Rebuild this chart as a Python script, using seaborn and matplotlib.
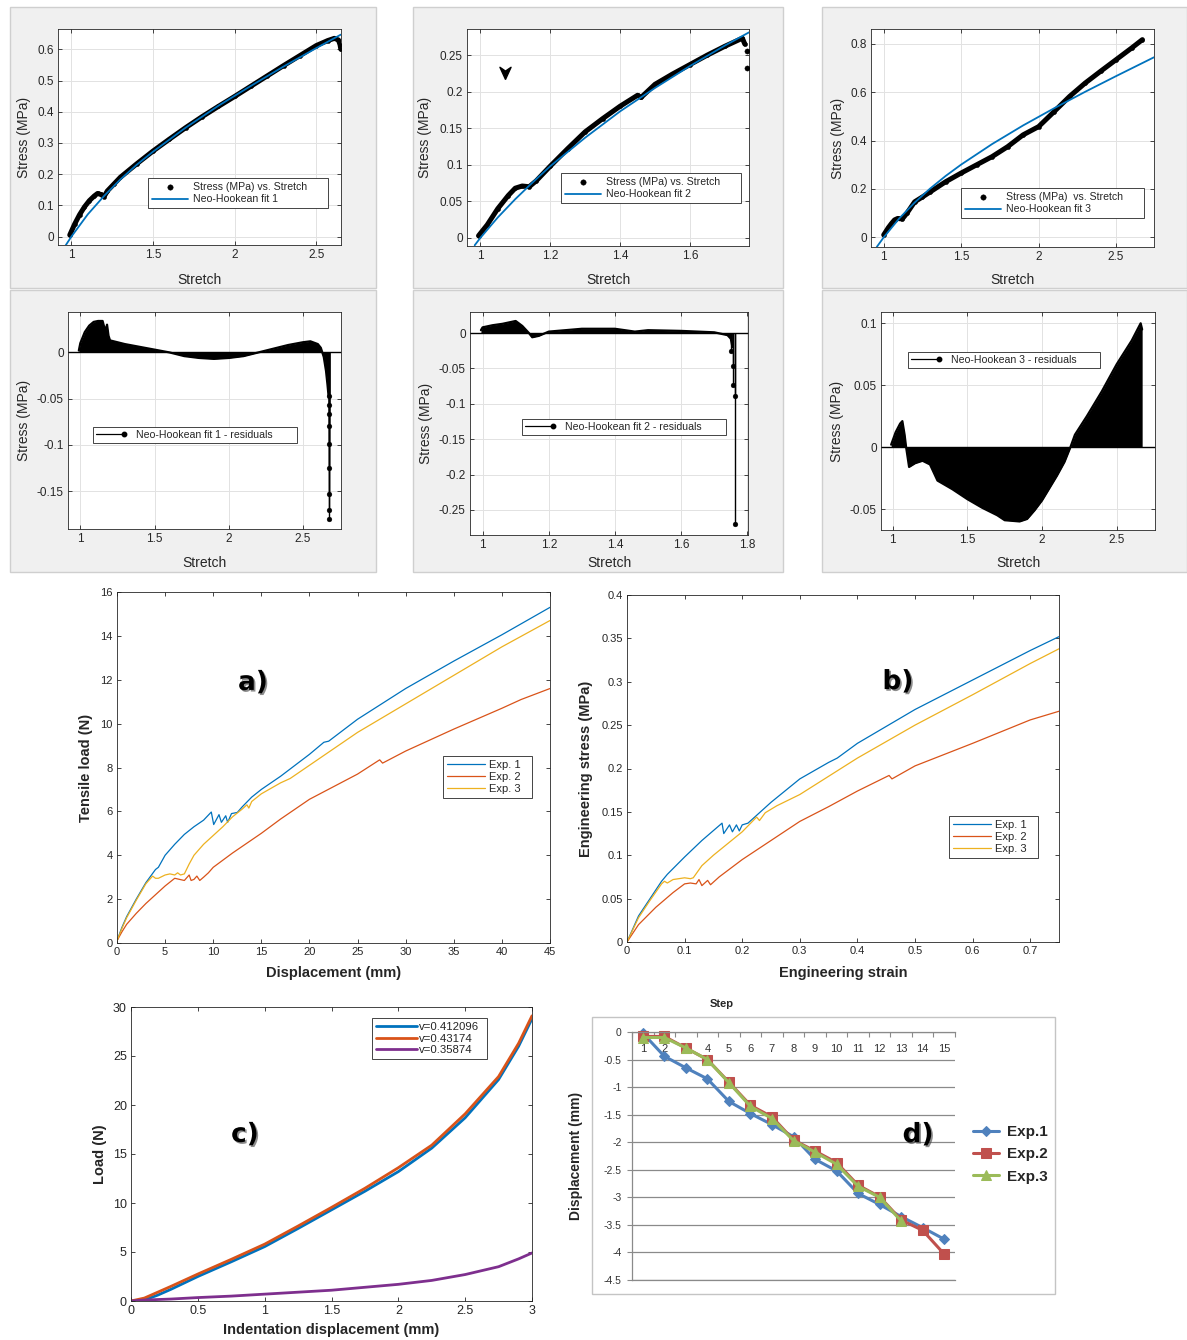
import numpy as np
import matplotlib
matplotlib.use("Agg")
import matplotlib.pyplot as plt
import seaborn as sns
from matplotlib.ticker import FuncFormatter
from matplotlib.patches import Rectangle
from matplotlib.lines import Line2D
from matplotlib.legend_handler import HandlerLine2D
import matplotlib.patheffects as pe

# ---------------- data ----------------
# top row: stress vs stretch + Neo-Hookean fits
p1_stretch = [0.99, 1.02, 1.05, 1.08, 1.11, 1.14, 1.16, 1.18, 1.20, 1.22, 1.26, 1.30, 1.40, 1.50, 1.60,
              1.70, 1.80, 1.90, 2.00, 2.10, 2.20, 2.30, 2.40, 2.50, 2.57, 2.61, 2.635, 2.645, 2.65]
p1_stress = [0.005, 0.040, 0.070, 0.095, 0.115, 0.130, 0.138, 0.135, 0.128, 0.146, 0.168, 0.190, 0.233, 0.274, 0.312,
             0.349, 0.384, 0.417, 0.449, 0.482, 0.515, 0.548, 0.580, 0.612, 0.628, 0.635, 0.630, 0.615, 0.600]
p1_fit_x = [0.96, 1.0, 1.1, 1.2, 1.3, 1.4, 1.5, 1.7, 1.9, 2.1, 2.3, 2.5, 2.65]
p1_fit_y = [-0.032, 0.0, 0.071, 0.130, 0.183, 0.230, 0.272, 0.349, 0.419, 0.483, 0.545, 0.604, 0.647]

p2_stretch = [0.995, 1.02, 1.05, 1.08, 1.10, 1.12, 1.14, 1.16, 1.20, 1.25, 1.30, 1.35, 1.40, 1.45, 1.46,
              1.50, 1.55, 1.60, 1.65, 1.70, 1.75, 1.757]
p2_stress = [0.003, 0.018, 0.040, 0.058, 0.068, 0.071, 0.070, 0.078, 0.098, 0.122, 0.145, 0.163, 0.180, 0.195, 0.192,
             0.210, 0.224, 0.237, 0.250, 0.262, 0.273, 0.265]
p2_out_x = [1.762, 1.762]
p2_out_y = [0.255, 0.232]
p2_fit_x = [0.984, 1.0, 1.05, 1.1, 1.15, 1.2, 1.3, 1.4, 1.5, 1.6, 1.7, 1.769]
p2_fit_y = [-0.010, 0.0, 0.028, 0.053, 0.076, 0.098, 0.137, 0.173, 0.205, 0.235, 0.263, 0.281]

p3_stretch = [1.0, 1.03, 1.05, 1.07, 1.09, 1.12, 1.15, 1.20, 1.25, 1.30, 1.40, 1.50, 1.60, 1.70, 1.80,
              1.90, 2.00, 2.10, 2.20, 2.30, 2.40, 2.50, 2.60, 2.67]
p3_stress = [0.010, 0.040, 0.057, 0.072, 0.078, 0.076, 0.100, 0.147, 0.167, 0.188, 0.230, 0.266, 0.300, 0.334, 0.375,
             0.424, 0.458, 0.520, 0.583, 0.638, 0.687, 0.735, 0.783, 0.818]
p3_fit_x = [0.955, 1.0, 1.1, 1.2, 1.3, 1.4, 1.5, 1.7, 1.9, 2.1, 2.3, 2.5, 2.745]
p3_fit_y = [-0.040, 0.0, 0.078, 0.144, 0.202, 0.254, 0.301, 0.386, 0.463, 0.534, 0.602, 0.667, 0.745]

# middle row: residuals
r1_x = [0.99, 1.0, 1.03, 1.06, 1.09, 1.12, 1.15, 1.16, 1.17, 1.18, 1.19, 1.20, 1.25, 1.30, 1.40, 1.50, 1.60,
        1.70, 1.80, 1.90, 2.00, 2.10, 2.20, 2.30, 2.40, 2.50, 2.55, 2.60, 2.62, 2.64, 2.655, 2.665, 2.672]
r1_y = [0.002, 0.010, 0.022, 0.029, 0.033, 0.034, 0.034, 0.028, 0.024, 0.030, 0.018, 0.013, 0.011, 0.009, 0.006,
        0.003, 0.000, -0.004, -0.006, -0.007, -0.006, -0.004, 0.000, 0.004, 0.008, 0.011, 0.012, 0.009, 0.005,
        -0.005, -0.020, -0.035, -0.047]
r1_tail_x = [2.673, 2.673, 2.673, 2.673, 2.673, 2.673, 2.673, 2.673, 2.673]
r1_tail_y = [-0.047, -0.057, -0.067, -0.080, -0.099, -0.125, -0.153, -0.170, -0.180]

r2_x = [0.995, 1.0, 1.03, 1.06, 1.09, 1.10, 1.12, 1.14, 1.15, 1.17, 1.20, 1.25, 1.30, 1.40, 1.46, 1.50, 1.60,
        1.70, 1.74, 1.75, 1.755]
r2_y = [0.004, 0.008, 0.011, 0.013, 0.016, 0.017, 0.010, 0.000, -0.006, -0.004, 0.002, 0.004, 0.006, 0.006, 0.002,
        0.004, 0.003, 0.001, -0.003, -0.008, -0.020]
r2_tail_x = [1.752, 1.757, 1.757, 1.762, 1.762]
r2_tail_y = [-0.025, -0.047, -0.073, -0.089, -0.270]

r3_x = [0.99, 1.02, 1.05, 1.065, 1.08, 1.09, 1.11, 1.15, 1.20, 1.25, 1.30, 1.40, 1.50, 1.60, 1.70, 1.75, 1.85,
        1.90, 1.95, 2.00, 2.10, 2.15, 2.19, 2.22, 2.30, 2.40, 2.50, 2.60, 2.66, 2.67]
r3_y = [0.002, 0.012, 0.019, 0.021, 0.010, 0.000, -0.016, -0.013, -0.011, -0.014, -0.027, -0.034, -0.042, -0.049,
        -0.055, -0.059, -0.060, -0.058, -0.051, -0.043, -0.023, -0.012, 0.000, 0.010, 0.025, 0.045, 0.067, 0.086,
        0.100, 0.095]
r3_tail_x = []
r3_tail_y = []

# a) tensile load vs displacement
a_exp1_x = [0, 0.5, 1, 2, 3, 3.5, 4, 4.3, 5, 6, 7, 8, 9, 9.8, 10.05, 10.6, 10.85, 11.3, 11.5, 11.9, 12.5, 13, 14,
            15, 17, 20, 21.5, 22, 25, 30, 35, 40, 45]
a_exp1_y = [0.1, 0.7, 1.2, 2.0, 2.75, 3.05, 3.35, 3.45, 4.0, 4.5, 4.95, 5.3, 5.6, 5.97, 5.4, 5.85, 5.5, 5.8, 5.5,
            5.9, 5.95, 6.2, 6.65, 7.0, 7.6, 8.6, 9.15, 9.2, 10.2, 11.6, 12.85, 14.05, 15.3]
a_exp2_x = [0, 0.5, 1, 2, 3, 4, 5, 6, 6.5, 7, 7.3, 7.5, 7.7, 8, 8.3, 8.6, 9, 9.5, 10, 12, 15, 17, 20, 25, 27.3,
            27.6, 30, 35, 40, 42, 45]
a_exp2_y = [0.1, 0.5, 0.85, 1.35, 1.8, 2.2, 2.6, 2.95, 2.9, 2.85, 3.0, 3.1, 2.85, 2.9, 3.05, 2.85, 3.0, 3.2, 3.45,
            4.1, 5.0, 5.65, 6.55, 7.7, 8.35, 8.2, 8.75, 9.75, 10.7, 11.1, 11.6]
a_exp3_x = [0, 0.5, 1, 2, 3, 3.7, 4.0, 4.3, 5, 5.5, 6, 6.3, 6.6, 7, 7.5, 8, 9, 10, 11, 12, 13, 13.5, 13.7, 14, 15,
            17, 18, 20, 25, 30, 35, 40, 45]
a_exp3_y = [0.1, 0.65, 1.15, 1.95, 2.7, 3.05, 2.95, 2.95, 3.1, 3.15, 3.1, 3.2, 3.1, 3.15, 3.6, 4.0, 4.5, 4.9, 5.3,
            5.75, 6.1, 6.3, 6.15, 6.45, 6.8, 7.3, 7.5, 8.1, 9.6, 10.9, 12.2, 13.5, 14.7]

# b) engineering stress vs strain
b_exp1_x = [0, 0.02, 0.04, 0.06, 0.07, 0.10, 0.13, 0.165, 0.168, 0.178, 0.183, 0.19, 0.195, 0.20, 0.21, 0.25,
            0.30, 0.35, 0.365, 0.40, 0.50, 0.60, 0.70, 0.75]
b_exp1_y = [0.0, 0.03, 0.05, 0.07, 0.078, 0.098, 0.117, 0.137, 0.125, 0.135, 0.127, 0.135, 0.128, 0.135, 0.137,
            0.161, 0.188, 0.207, 0.212, 0.229, 0.268, 0.302, 0.336, 0.352]
b_exp2_x = [0, 0.02, 0.05, 0.08, 0.10, 0.11, 0.12, 0.125, 0.13, 0.14, 0.145, 0.15, 0.16, 0.20, 0.25, 0.30, 0.35,
            0.40, 0.455, 0.46, 0.50, 0.60, 0.70, 0.75]
b_exp2_y = [0.0, 0.02, 0.04, 0.057, 0.067, 0.068, 0.067, 0.072, 0.065, 0.071, 0.066, 0.069, 0.075, 0.095, 0.117,
            0.139, 0.156, 0.174, 0.192, 0.188, 0.203, 0.229, 0.256, 0.266]
b_exp3_x = [0, 0.02, 0.04, 0.06, 0.065, 0.07, 0.08, 0.09, 0.10, 0.11, 0.115, 0.13, 0.15, 0.20, 0.225, 0.23, 0.24,
            0.26, 0.30, 0.40, 0.50, 0.60, 0.70, 0.75]
b_exp3_y = [0.0, 0.028, 0.048, 0.067, 0.070, 0.068, 0.072, 0.073, 0.074, 0.073, 0.074, 0.088, 0.100, 0.127, 0.144,
            0.140, 0.149, 0.157, 0.170, 0.212, 0.250, 0.285, 0.321, 0.338]

# c) indentation load
c_disp = [0, 0.1, 0.2, 0.3, 0.5, 0.75, 1.0, 1.25, 1.5, 1.75, 2.0, 2.25, 2.5, 2.75, 2.9, 3.0]
c_v1 = [0, 0.1, 0.6, 1.2, 2.5, 4.0, 5.55, 7.4, 9.3, 11.2, 13.2, 15.6, 18.7, 22.6, 26.0, 28.8]
c_v2 = [0, 0.3, 0.9, 1.5, 2.75, 4.25, 5.8, 7.65, 9.55, 11.5, 13.6, 15.9, 19.1, 22.9, 26.3, 29.1]
c_v3 = [0, 0.1, 0.15, 0.2, 0.35, 0.5, 0.7, 0.9, 1.1, 1.4, 1.7, 2.1, 2.7, 3.5, 4.3, 4.9]
c_labels = ["v=0.412096", "v=0.43174", "v=0.35874"]

# d) displacement per step
d_step = [1, 2, 3, 4, 5, 6, 7, 8, 9, 10, 11, 12, 13, 14, 15]
d_exp1 = [-0.02, -0.44, -0.65, -0.85, -1.26, -1.48, -1.68, -1.90, -2.31, -2.52, -2.93, -3.13, -3.35, -3.55, -3.76]
d_exp2 = [-0.08, -0.08, -0.29, -0.50, -0.91, -1.33, -1.54, -1.96, -2.16, -2.37, -2.78, -2.99, -3.41, -3.60, -4.03]
d_step3 = [1, 2, 3, 4, 5, 6, 7, 8, 9, 10, 11, 12, 13]
d_exp3 = [-0.10, -0.10, -0.29, -0.50, -0.92, -1.35, -1.57, -1.97, -2.18, -2.40, -2.80, -3.00, -3.43]

# ---------------- setup ----------------
sns.set_theme(style="ticks")
plt.rcParams['font.family'] = ['Liberation Sans', 'DejaVu Sans']
plt.rcParams['axes.unicode_minus'] = False

W, H = 1187, 1340
fig = plt.figure(figsize=(W / 100, H / 100), dpi=100)
fig.patch.set_facecolor('white')

ML_BLUE, ML_ORANGE, ML_YELLOW, ML_PURPLE = '#0072BD', '#D95319', '#EDB120', '#7E2F8E'
DARK = '#262626'


def add_ax(box):
    l, t, r, b = box
    return fig.add_axes([l / W, 1 - b / H, (r - l) / W, (b - t) / H])


def gfmt(v, pos):
    if abs(v) < 1e-12:
        return '0'
    return f'{v:g}'


def style_box(ax, xlim, ylim, xt, yt, labelsize, grid):
    ax.set_xlim(xlim)
    ax.set_ylim(ylim)
    ax.set_xticks(xt)
    ax.set_yticks(yt)
    ax.xaxis.set_major_formatter(FuncFormatter(gfmt))
    ax.yaxis.set_major_formatter(FuncFormatter(gfmt))
    ax.tick_params(direction='in', top=True, right=True, length=3, width=0.6, color=DARK,
                   labelcolor=DARK, labelsize=labelsize, pad=3)
    for s in ax.spines.values():
        s.set_visible(True)
        s.set_color(DARK)
        s.set_linewidth(0.6)
    ax.set_facecolor('white')
    if grid:
        ax.grid(True, color='#e2e2e2', lw=0.7)
    else:
        ax.grid(False)
    ax.set_axisbelow(True)


def set_labels(ax, box, xlabel, ylabel, xlab_top, ylab_right, size, weight='normal'):
    l, t, r, b = box
    ax.set_xlabel(xlabel, fontsize=size, fontweight=weight, color=DARK)
    ax.set_ylabel(ylabel, fontsize=size, fontweight=weight, color=DARK)
    ax.xaxis.set_label_coords(0.5, -(xlab_top - b) / (b - t))
    ax.yaxis.set_label_coords(-(l - ylab_right) / (r - l), 0.5)


def place_legend(ax, handles, labels, box, fontsize, **kw):
    l, t, r, b = box
    leg = ax.legend(handles, labels, loc='upper left',
                    bbox_to_anchor=(l / W, 1 - b / H, (r - l) / W, (b - t) / H),
                    bbox_transform=fig.transFigure, mode='expand', borderaxespad=0,
                    fancybox=False, framealpha=1, edgecolor=DARK, fontsize=fontsize, **kw)
    leg.get_frame().set_linewidth(0.6)
    for txt in leg.get_texts():
        txt.set_color(DARK)
    return leg


class EndMarker(HandlerLine2D):
    def create_artists(self, legend, orig_handle, xdescent, ydescent, width, height, fontsize, trans):
        y = (height - ydescent) / 2
        line = Line2D([-xdescent, -xdescent + width], [y, y])
        self.update_prop(line, orig_handle, legend)
        line.set_markevery([1])
        line.set_transform(trans)
        return [line]


def gray_box(l, t, r, b):
    fig.patches.append(Rectangle((l / W, 1 - b / H), (r - l) / W, (b - t) / H, transform=fig.transFigure,
                                 facecolor='#f0f0f0', edgecolor='#cfcfcf', lw=1.0, zorder=-5))


# gray MATLAB figure backgrounds
for (l, r) in [(10, 376), (413, 783), (822, 1187)]:
    gray_box(l, 7, r, 288)
    gray_box(l, 290, r, 572)


# ---------------- top row ----------------
def stress_panel(box, sx, sy, fx, fy, datalabel, fitlabel, xlim, ylim, xt, yt, legbox, ylab_right, out=None):
    ax = add_ax(box)
    sns.lineplot(x=sx, y=sy, ax=ax, color='black', lw=3.6, sort=False, estimator=None, legend=False)
    sns.scatterplot(x=sx, y=sy, ax=ax, color='black', s=9, edgecolor='black', linewidth=0.3,
                    label=datalabel, zorder=3)
    if out is not None:
        sns.scatterplot(x=out[0], y=out[1], ax=ax, color='black', s=14, edgecolor='black', legend=False, zorder=3)
    sns.lineplot(x=fx, y=fy, ax=ax, color=ML_BLUE, lw=1.3, sort=False, estimator=None, label=fitlabel, zorder=4)
    style_box(ax, xlim, ylim, xt, yt, 8.5, True)
    set_labels(ax, box, 'Stretch', 'Stress (MPa)', 273, ylab_right, 10)
    h, lab = ax.get_legend_handles_labels()
    place_legend(ax, h, lab, legbox, 7.6, handlelength=3.4, handletextpad=0.5, borderpad=0.35,
                 labelspacing=0.25, markerscale=1.3, scatterpoints=1)
    return ax


box1 = (58, 29, 341, 245)
stress_panel(box1, p1_stretch, p1_stress, p1_fit_x, p1_fit_y, 'Stress (MPa) vs. Stretch', 'Neo-Hookean fit 1',
             (0.918, 2.651), (-0.027, 0.665), [1, 1.5, 2, 2.5], [0, 0.1, 0.2, 0.3, 0.4, 0.5, 0.6],
             (148, 178, 328, 216), 31)

box2 = (467, 29, 749, 246)
ax2 = stress_panel(box2, p2_stretch, p2_stress, p2_fit_x, p2_fit_y, 'Stress (MPa) vs. Stretch', 'Neo-Hookean fit 2',
                   (0.962, 1.769), (-0.011, 0.2856), [1, 1.2, 1.4, 1.6], [0, 0.05, 0.1, 0.15, 0.2, 0.25],
                   (561, 173, 741, 213), 432, out=(p2_out_x, p2_out_y))
arrow_verts = [(0, -1), (-0.8, 0.75), (0, 0.2), (0.8, 0.75), (0, -1)]
ax2.plot([1.071], [0.227], marker=arrow_verts, ms=10, color='black', ls='none')

box3 = (871, 29, 1154, 247)
stress_panel(box3, p3_stretch, p3_stress, p3_fit_x, p3_fit_y, 'Stress (MPa)  vs. Stretch', 'Neo-Hookean fit 3',
             (0.918, 2.745), (-0.040, 0.862), [1, 1.5, 2, 2.5], [0, 0.2, 0.4, 0.6, 0.8],
             (961, 188, 1144, 225), 845)


# ---------------- residual row ----------------
def resid_panel(box, rx, ry, tx, ty, label, xlim, ylim, xt, yt, legbox, ylab_right):
    ax = add_ax(box)
    ax.fill_between(rx, ry, 0, color='black', lw=0)
    sns.lineplot(x=rx, y=ry, ax=ax, color='black', lw=1.6, sort=False, estimator=None, legend=False)
    if len(tx):
        ax.vlines(tx, ty, 0, color='black', lw=1.0)
        sns.scatterplot(x=tx, y=ty, ax=ax, color='black', s=12, edgecolor='black', legend=False, zorder=4)
    ax.axhline(0, color='black', lw=1.0)
    style_box(ax, xlim, ylim, xt, yt, 8.5, True)
    set_labels(ax, box, 'Stretch', 'Stress (MPa)', 556, ylab_right, 10)
    proxy = Line2D([], [], color='black', lw=0.9, marker='o', markersize=3.2)
    place_legend(ax, [proxy], [label], legbox, 7.6, handler_map={proxy: EndMarker()}, handlelength=2.6,
                 handletextpad=1.2, borderpad=0.3)
    return ax


resid_panel((68, 312, 341, 529), r1_x, r1_y, r1_tail_x, r1_tail_y, 'Neo-Hookean fit 1 - residuals',
            (0.917, 2.756), (-0.191, 0.0437), [1, 1.5, 2, 2.5], [-0.15, -0.1, -0.05, 0],
            (93, 427, 297, 448), 31)

resid_panel((470, 312, 748, 535), r2_x, r2_y, r2_tail_x, r2_tail_y, 'Neo-Hookean fit 2 - residuals',
            (0.962, 1.802), (-0.2854, 0.0297), [1, 1.2, 1.4, 1.6, 1.8],
            [-0.25, -0.2, -0.15, -0.1, -0.05, 0], (522, 419, 726, 438), 433)

resid_panel((881, 312, 1155, 530), r3_x, r3_y, r3_tail_x, r3_tail_y, 'Neo-Hookean 3 - residuals',
            (0.922, 2.756), (-0.0669, 0.1091), [1, 1.5, 2, 2.5], [-0.05, 0, 0.05, 0.1],
            (908, 352, 1100, 375), 844)


# ---------------- panel a ----------------
def panel_label(ax, x, y, s):
    ax.text(x, y, s, transform=ax.transAxes, fontsize=19, fontweight='heavy', family='DejaVu Sans',
            ha='center', va='center', color='black',
            path_effects=[pe.withSimplePatchShadow(offset=(1.2, -1.2), shadow_rgbFace='#404040', alpha=0.6)])


boxa = (117, 592, 550, 943)
axa = add_ax(boxa)
sns.lineplot(x=a_exp1_x, y=a_exp1_y, ax=axa, color=ML_BLUE, lw=0.9, sort=False, estimator=None, label='Exp. 1')
sns.lineplot(x=a_exp2_x, y=a_exp2_y, ax=axa, color=ML_ORANGE, lw=0.9, sort=False, estimator=None, label='Exp. 2')
sns.lineplot(x=a_exp3_x, y=a_exp3_y, ax=axa, color=ML_YELLOW, lw=0.9, sort=False, estimator=None, label='Exp. 3')
style_box(axa, (0, 45), (0, 16), list(range(0, 46, 5)), list(range(0, 17, 2)), 8, False)
set_labels(axa, boxa, 'Displacement (mm)', 'Tensile load (N)', 966, 93, 10.5, 'bold')
h, lab = axa.get_legend_handles_labels()
place_legend(axa, h, lab, (443, 756, 532, 809), 8, handlelength=3.4, handletextpad=0.4, borderpad=0.35,
             labelspacing=0.2)
panel_label(axa, 0.314, 0.741, 'a)')

# ---------------- panel b ----------------
boxb = (627, 595, 1059, 942)
axb = add_ax(boxb)
sns.lineplot(x=b_exp1_x, y=b_exp1_y, ax=axb, color=ML_BLUE, lw=0.9, sort=False, estimator=None, label='Exp. 1')
sns.lineplot(x=b_exp2_x, y=b_exp2_y, ax=axb, color=ML_ORANGE, lw=0.9, sort=False, estimator=None, label='Exp. 2')
sns.lineplot(x=b_exp3_x, y=b_exp3_y, ax=axb, color=ML_YELLOW, lw=0.9, sort=False, estimator=None, label='Exp. 3')
style_box(axb, (0, 0.75), (0, 0.4), [0, 0.1, 0.2, 0.3, 0.4, 0.5, 0.6, 0.7],
          [0, 0.05, 0.1, 0.15, 0.2, 0.25, 0.3, 0.35, 0.4], 8, False)
set_labels(axb, boxb, 'Engineering strain', 'Engineering stress (MPa)', 966, 593, 10.5, 'bold')
h, lab = axb.get_legend_handles_labels()
place_legend(axb, h, lab, (949, 816, 1038, 869), 8, handlelength=3.4, handletextpad=0.4, borderpad=0.35,
             labelspacing=0.2)
panel_label(axb, 0.627, 0.749, 'b)')

# ---------------- panel c ----------------
boxc = (131, 1007, 532, 1301)
axc = add_ax(boxc)
sns.lineplot(x=c_disp, y=c_v1, ax=axc, color=ML_BLUE, lw=2.0, sort=False, estimator=None, label=c_labels[0])
sns.lineplot(x=c_disp, y=c_v2, ax=axc, color=ML_ORANGE, lw=2.0, sort=False, estimator=None, label=c_labels[1])
sns.lineplot(x=c_disp, y=c_v3, ax=axc, color=ML_PURPLE, lw=2.0, sort=False, estimator=None, label=c_labels[2])
style_box(axc, (0, 3), (0, 30), [0, 0.5, 1, 1.5, 2, 2.5, 3], [0, 5, 10, 15, 20, 25, 30], 9, False)
set_labels(axc, boxc, 'Indentation displacement (mm)', 'Load (N)', 1323, 107, 10.5, 'bold')
h, lab = axc.get_legend_handles_labels()
place_legend(axc, h, lab, (372, 1018, 487, 1071), 8.2, handlelength=3.6, handletextpad=0.2, borderpad=0.35,
             labelspacing=0.15)
panel_label(axc, 0.284, 0.565, 'c)')

# ---------------- panel d (Excel style) ----------------
fig.patches.append(Rectangle((592 / W, 1 - 1294 / H), (1055 - 592) / W, (1294 - 1017) / H,
                             transform=fig.transFigure, facecolor='white', edgecolor='#c4c4c4', lw=1.0, zorder=-4))
boxd = (632, 1032, 955, 1280)
axd = add_ax(boxd)
sns.lineplot(x=d_step, y=d_exp1, ax=axd, color='#4F81BD', lw=2.2, marker='D', markersize=5, mec='#4F81BD',
             sort=False, estimator=None, label='Exp.1', clip_on=False)
sns.lineplot(x=d_step, y=d_exp2, ax=axd, color='#C0504D', lw=2.2, marker='s', markersize=7, mec='#C0504D',
             sort=False, estimator=None, label='Exp.2', clip_on=False)
sns.lineplot(x=d_step3, y=d_exp3, ax=axd, color='#9BBB59', lw=2.2, marker='^', markersize=7, mec='#9BBB59',
             sort=False, estimator=None, label='Exp.3', clip_on=False)
axd.set_xlim(0.5, 15.5)
axd.set_ylim(-4.5, 0)
GRAYD = '#8a8a8a'
axd.set_yticks([0, -0.5, -1, -1.5, -2, -2.5, -3, -3.5, -4, -4.5])
axd.yaxis.set_major_formatter(FuncFormatter(gfmt))
axd.set_xticks(np.arange(0.5, 16, 1.0))
axd.set_xticks(d_step, labels=[str(s) for s in d_step], minor=True)
axd.tick_params(axis='x', which='major', top=True, bottom=False, labeltop=False, labelbottom=False,
                direction='in', length=3.5, width=0.8, color=GRAYD)
axd.tick_params(axis='x', which='minor', top=True, bottom=False, labeltop=True, labelbottom=False,
                length=0, pad=-16, labelsize=8, labelcolor='#333333')
axd.tick_params(axis='y', left=True, right=False, direction='out', length=3.5, width=0.8, color=GRAYD,
                labelsize=7.5, labelcolor='#333333', pad=4)
axd.grid(False)
axd.yaxis.grid(True, color=GRAYD, lw=0.9)
axd.set_axisbelow(True)
for side in ['top', 'left', 'bottom']:
    axd.spines[side].set_visible(True)
    axd.spines[side].set_color(GRAYD)
    axd.spines[side].set_linewidth(0.9)
axd.spines['right'].set_visible(False)
axd.set_facecolor('white')
axd.set_ylabel('Displacement (mm)', fontsize=10, fontweight='bold', color='#262626')
axd.yaxis.set_label_coords(-(632 - 583) / (955 - 632), 0.5)
axd.xaxis.set_label_position('top')
axd.set_xlabel('Step', fontsize=8, fontweight='bold', color='#262626')
axd.xaxis.set_label_coords((722 - 632) / (955 - 632), 1 + (1032 - 1007) / (1280 - 1032))
h, lab = axd.get_legend_handles_labels()
legd = axd.legend(h, lab, loc='upper left', bbox_to_anchor=(973 / W, 1 - 1125 / H), bbox_transform=fig.transFigure,
                  frameon=False, borderaxespad=0, borderpad=0, handlelength=1.7, handletextpad=0.5,
                  labelspacing=0.55, prop={'weight': 'bold', 'size': 11})
for txt in legd.get_texts():
    txt.set_color('#262626')
axd.text((918 - 632) / (955 - 632), 1 - (1135 - 1032) / (1280 - 1032), 'd)', transform=axd.transAxes,
         fontsize=19, fontweight='heavy', family='DejaVu Sans', ha='center', va='center', color='black',
         path_effects=[pe.withSimplePatchShadow(offset=(1.2, -1.2), shadow_rgbFace='#404040', alpha=0.6)])

fig.savefig('out.png', dpi=100)
